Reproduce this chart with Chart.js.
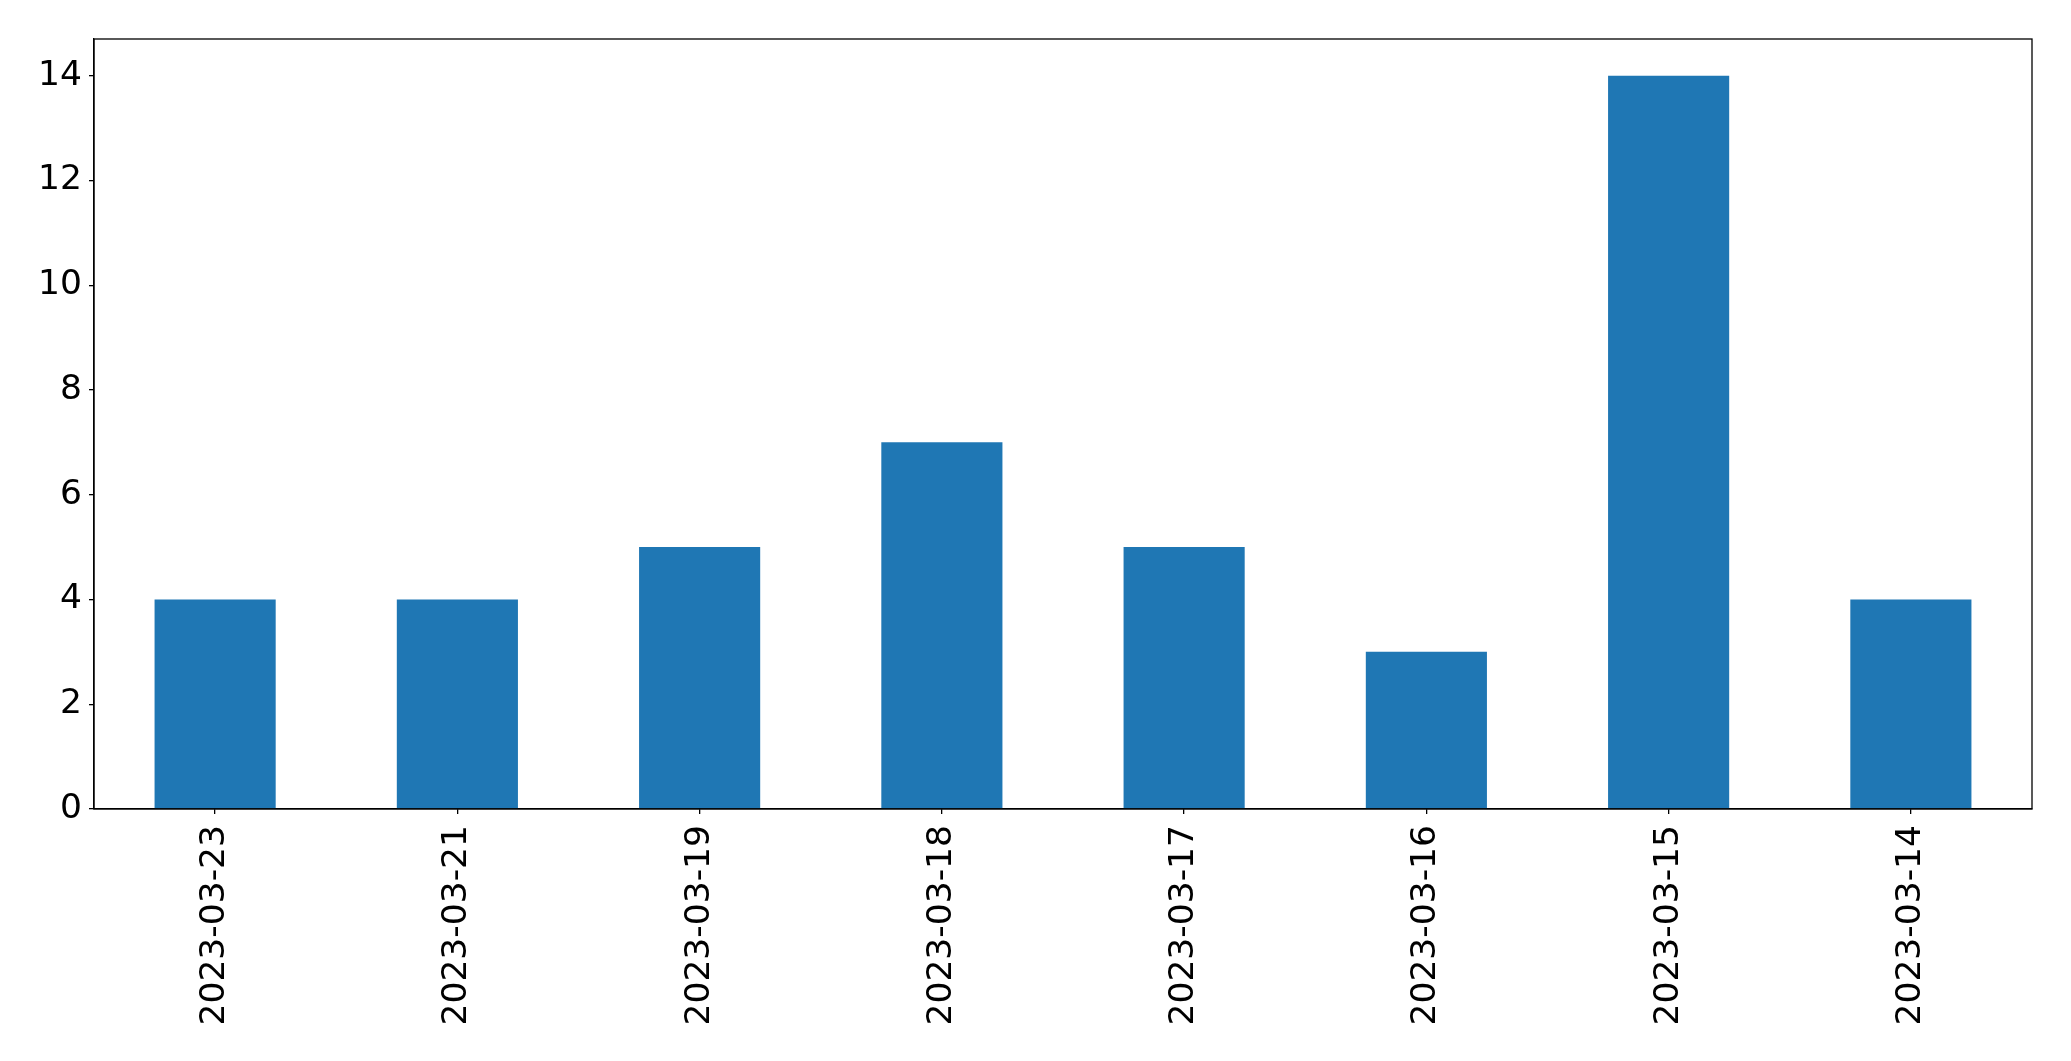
<!DOCTYPE html>
<html>
<head>
<meta charset="utf-8">
<script src="https://cdn.jsdelivr.net/npm/chart.js@4/dist/chart.umd.min.js"></script>
<style>
html,body{margin:0;padding:0;background:#fff;}
#wrap{width:2071px;height:1061px;position:relative;}
</style>
</head>
<body>
<div id="wrap"><canvas id="c" width="2071" height="1061"></canvas></div>
<script>
const categories = ["2023-03-23","2023-03-21","2023-03-19","2023-03-18","2023-03-17","2023-03-16","2023-03-15","2023-03-14"];
const counts = [4, 4, 5, 7, 5, 3, 14, 4];
const yTicks = [0, 2, 4, 6, 8, 10, 12, 14];

const boxPlugin = {
  id: 'box',
  afterDraw(chart) {
    const a = chart.chartArea, ctx = chart.ctx;
    ctx.save();
    ctx.strokeStyle = '#000';
    ctx.lineWidth = 1.3;
    ctx.strokeRect(a.left, a.top, a.right - a.left, a.bottom - a.top);
    ctx.restore();
  }
};

new Chart(document.getElementById('c'), {
  type: 'bar',
  data: {
    labels: categories,
    datasets: [{
      data: counts,
      backgroundColor: '#1f77b4',
      borderWidth: 0,
      categoryPercentage: 1.0,
      barPercentage: 0.5
    }]
  },
  options: {
    responsive: false,
    animation: false,
    layout: { padding: { top: 39, right: 39, left: 0, bottom: 0 } },
    plugins: { legend: { display: false }, tooltip: { enabled: false } },
    scales: {
      x: {
        grid: { display: true, offset: false, drawOnChartArea: false, drawTicks: true, tickLength: 5, color: '#000', lineWidth: 1.3 },
        border: { display: true, color: '#000', width: 1.3 },
        ticks: {
          color: '#000', minRotation: 90, maxRotation: 90, autoSkip: false, padding: 11,
          font: { family: 'DejaVu Sans', size: 34.5 }
        },
        afterFit(s) { s.height = 252; }
      },
      y: {
        min: 0, max: 14.7,
        grid: { display: true, drawOnChartArea: false, drawTicks: true, tickLength: 5, color: '#000', lineWidth: 1.3 },
        border: { display: true, color: '#000', width: 1.3 },
        afterBuildTicks(s) { s.ticks = yTicks.map(v => ({ value: v })); },
        ticks: {
          color: '#000', padding: 7, includeBounds: false,
          font: { family: 'DejaVu Sans', size: 34.5 }
        },
        afterFit(s) { s.width = 94; }
      }
    }
  },
  plugins: [boxPlugin]
});
</script>
</body>
</html>
